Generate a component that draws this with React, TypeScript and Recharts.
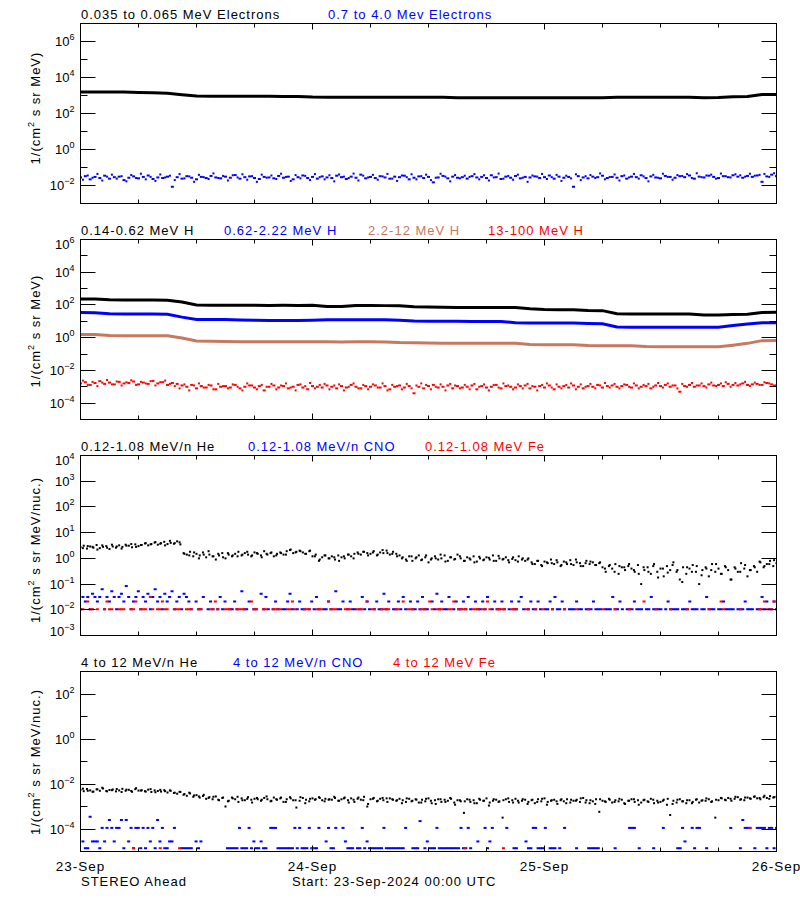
import React from 'react';
import { ComposedChart, Line, Scatter, XAxis, YAxis } from 'recharts';

const BLACK = '#000000';
const BLUE = '#0000ff';
const BROWN = '#c8785f';
const RED = '#ff0000';
const FONT = '"Liberation Sans", Arial, sans-serif';

// x axis is hours since 23-Sep-2024 00:00 UTC
const X_TICKS = [0, 6, 12, 18, 24, 30, 36, 42, 48, 54, 60, 66, 72];
const DAY_LABELS = ['23-Sep', '24-Sep', '25-Sep', '26-Sep'];

const Y1_TICKS = [1e-3, 1e-2, 1e-1, 1, 1e1, 1e2, 1e3, 1e4, 1e5, 1e6, 1e7];
const Y2_TICKS = [1e-5, 1e-4, 1e-3, 1e-2, 1e-1, 1, 1e1, 1e2, 1e3, 1e4, 1e5, 1e6];
const Y3_TICKS = [1e-3, 1e-2, 1e-1, 1, 1e1, 1e2, 1e3, 1e4];
const Y4_TICKS = [1e-5, 1e-4, 1e-3, 1e-2, 1e-1, 1, 1e1, 1e2, 1e3];

const TITLES_1 = ['0.035 to 0.065 MeV Electrons', '0.7 to 4.0 Mev Electrons'];
const TITLES_2 = ['0.14-0.62 MeV H', '0.62-2.22 MeV H', '2.2-12 MeV H', '13-100 MeV H'];
const TITLES_3 = ['0.12-1.08 MeV/n He', '0.12-1.08 MeV/n CNO', '0.12-1.08 MeV Fe'];
const TITLES_4 = ['4 to 12 MeV/n He', '4 to 12 MeV/n CNO', '4 to 12 MeV Fe'];

// smooth channels, one value every 1.5 h
const E_LOW = [1580, 1580, 1570, 1560, 1450, 1400, 1350, 1100, 930, 910, 910, 900, 910, 900, 890, 880, 820, 810, 810, 810, 800, 810, 810, 800, 800, 790, 760, 750, 760, 755, 750, 750, 750, 755, 750, 760, 760, 800, 810, 810, 805, 800, 800, 760, 770, 860, 880, 1150, 1150];
const H_014 = [235, 232, 205, 200, 200, 198, 195, 150, 100, 96, 95, 95, 95, 94, 95, 94, 95, 80, 80, 92, 92, 91, 90, 78, 75, 72, 71, 71, 70, 70, 70, 58, 52, 51, 51, 46, 45, 29, 28, 28, 28, 28, 28, 24, 24, 26, 27, 34, 36];
const H_062 = [34, 33, 29, 28, 28, 28, 27, 18, 13, 13, 13, 12, 11.5, 11.4, 11.4, 11.4, 11.8, 12.5, 12.5, 12.5, 12.5, 12.3, 11.5, 10.3, 10, 10, 10, 9.9, 9.9, 9.8, 8.2, 7.8, 7.8, 7.8, 7.8, 7.4, 7.1, 4.5, 4.4, 4.3, 4.3, 4.3, 4.3, 4.3, 4.4, 5.5, 6.8, 8.1, 8.2];
const H_22 = [1.58, 1.55, 1.35, 1.32, 1.32, 1.3, 1.3, 0.95, 0.62, 0.6, 0.58, 0.57, 0.56, 0.56, 0.56, 0.56, 0.56, 0.56, 0.55, 0.56, 0.56, 0.55, 0.5, 0.49, 0.47, 0.45, 0.45, 0.45, 0.45, 0.45, 0.45, 0.38, 0.37, 0.37, 0.37, 0.33, 0.32, 0.32, 0.32, 0.29, 0.28, 0.28, 0.28, 0.28, 0.28, 0.35, 0.45, 0.66, 0.68];

// noisy channels: values on the half hour, then values a quarter hour later
const E_HIGH = [
  .028, .033, .022, .030, .026, .035, .024, .029, .031, .020,
  .027, .032, .025, .030, .036, .023, .028, .026, .031, .0085,
  .029, .024, .033, .027, .022, .030, .026, .034, .028, .025,
  .031, .027, .038, .024, .029, .032, .026, .023, .030, .028,
  .025, .034, .027, .031, .022, .029, .036, .026, .030, .024,
  .032, .028, .026, .035, .029, .023, .031, .027, .040, .025,
  .030, .026, .033, .028, .024, .031, .029, .035, .022, .027,
  .032, .026, .030, .015, .028, .034, .025, .031, .027, .029,
  .024, .033, .028, .030, .026, .037, .029, .023, .031, .027,
  .034, .025, .030, .028, .032, .026, .029, .036, .024, .031,
  .027, .030, .0085, .033, .028, .025, .031, .029, .035, .026,
  .030, .027, .033, .024, .031, .029, .037, .026, .032, .028,
  .025, .034, .030, .027, .033, .029, .036, .024, .031, .028,
  .035, .030, .026, .033, .029, .037, .031, .027, .034, .030,
  .036, .016, .032, .040, .033,
];
const E_HIGH_B = [
  .021, .036, .027, .044, .019, .031, .040, .024, .033, .017,
  .038, .026, .045, .022, .030, .018, .041, .028, .035, .020,
  .043, .025, .032, .016, .039, .029, .023, .047, .026, .034,
  .019, .037, .028, .042, .021, .033, .016, .040, .027, .036,
  .023, .045, .030, .018, .038, .025, .034, .020, .043, .029,
  .022, .037, .017, .041, .031, .026, .046, .019, .035, .028,
  .039, .021, .032, .044, .024, .018, .036, .029, .042, .022,
  .033, .040, .020, .027, .045, .031, .017, .038, .025, .035,
  .030, .043, .022, .037, .019, .028, .046, .024, .034, .021,
  .040, .027, .016, .036, .031, .044, .023, .029, .039, .018,
  .035, .025, .042, .020, .033, .038, .026, .047, .022, .030,
  .041, .019, .036, .028, .044, .024, .032, .017, .039, .027,
  .045, .030, .021, .038, .034, .043, .026, .048, .029, .036,
  .040, .024, .046, .033, .028, .042, .037, .031, .045, .035,
  .039, .044, .030, .048,
];
const H_13 = [
  .0016, .0019, .0013, .0017, .0022, .0015, .0018, .0014, .0020, .0016,
  .0017, .0021, .0014, .0018, .0015, .0023, .0016, .0019, .0013, .0017,
  .0015, .0012, .0010, .0013, .0008, .0011, .0009, .0012, .0007, .0010,
  .0011, .0009, .0013, .0008, .0010, .0012, .0009, .0011, .0006, .0010,
  .0012, .0009, .0011, .0008, .0010, .0013, .0009, .0007, .0011, .0010,
  .0009, .0012, .0010, .0008, .0011, .0009, .0013, .0010, .0008, .0011,
  .0010, .0012, .0009, .0011, .0007, .0010, .0012, .0009, .0011, .0004,
  .0010, .0008, .0011, .0013, .0009, .0010, .0012, .0008, .0011, .0009,
  .0010, .0012, .0007, .0011, .0009, .0010, .0013, .0008, .0011, .0010,
  .0009, .0011, .0012, .0008, .0010, .0011, .0009, .0012, .0007, .0010,
  .0011, .0009, .0012, .0010, .0008, .0011, .0010, .0013, .0009, .0011,
  .0012, .0010, .0011, .0013, .0009, .0012, .0010, .0011, .0008, .0012,
  .0011, .0013, .0010, .0012, .0005, .0011, .0013, .0010, .0012, .0011,
  .0014, .0012, .0013, .0011, .0015, .0013, .0012, .0016, .0013, .0014,
  .0015, .0013, .0017, .0014, .0012,
];
const H_13_B = [
  .0024, .0013, .0020, .0011, .0018, .0026, .0014, .0021, .0012, .0019,
  .0025, .0013, .0020, .0016, .0022, .0012, .0019, .0024, .0015, .0011,
  .0008, .0014, .0006, .0012, .0016, .0009, .0013, .0007, .0015, .0011,
  .0008, .0014, .0010, .0006, .0016, .0012, .0007, .0013, .0010, .0015,
  .0007, .0012, .0016, .0009, .0006, .0014, .0011, .0017, .0008, .0013,
  .0015, .0007, .0012, .0014, .0006, .0010, .0016, .0008, .0013, .0007,
  .0014, .0009, .0016, .0006, .0013, .0011, .0007, .0015, .0008, .0012,
  .0016, .0013, .0007, .0010, .0014, .0006, .0015, .0012, .0008, .0013,
  .0007, .0015, .0010, .0014, .0006, .0013, .0009, .0016, .0012, .0007,
  .0014, .0008, .0015, .0011, .0006, .0013, .0016, .0009, .0014, .0008,
  .0013, .0016, .0007, .0014, .0010, .0015, .0008, .0012, .0017, .0009,
  .0015, .0008, .0014, .0010, .0016, .0008, .0013, .0015, .0010, .0017,
  .0009, .0016, .0012, .0008, .0015, .0010, .0017, .0012, .0016, .0009,
  .0018, .0011, .0016, .0019, .0010, .0017, .0014, .0020, .0011, .0018,
  .0013, .0019, .0016, .0012,
];

// helium: one value every 20 min, then a second set on the quarter hours
const HE_LOW = [
  2.7, 3.1, 2.4, 2.9, 2.6, 3.3, 2.5, 2.8, 3.0, 2.3,
  2.9, 2.6, 3.2, 2.8, 3.4, 3.1, 2.7, 3.5, 3.0, 3.3,
  3.8, 3.2, 3.6, 4.1, 3.4, 3.9, 4.4, 3.6, 4.0, 3.7,
  4.6, 3.5, 1.6, 1.4, 1.8, 1.2, 1.5, 1.3, 1.7, 1.1,
  1.4, 1.2, 0.9, 1.3, 1.6, 1.0, 1.4, 1.2, 1.5, 1.8,
  1.3, 1.6, 1.4, 1.2, 1.7, 1.5, 1.3, 1.9, 1.4, 1.6,
  1.2, 1.5, 1.7, 1.4, 1.9, 2.1, 1.6, 1.8, 2.0, 1.7,
  1.5, 1.9, 1.2, 1.4, 0.8, 1.1, 1.3, 1.0, 1.2, 0.9,
  1.3, 1.1, 1.0, 1.4, 1.2, 1.5, 1.7, 1.4, 1.8, 1.6,
  1.5, 1.9, 1.3, 1.7, 1.6, 2.0, 1.4, 1.8, 1.5, 1.3,
  1.1, 0.9, 1.2, 0.8, 1.0, 1.3, 0.9, 1.1, 0.7, 1.0,
  1.2, 0.9, 1.0, 1.3, 0.8, 1.1, 0.9, 1.4, 1.0, 0.8,
  1.1, 0.9, 1.2, 0.75, 1.0, 0.85, 1.1, 0.9, 1.3, 0.8,
  1.0, 0.9, 1.1, 0.7, 0.95, 0.85, 1.2, 0.9, 0.8, 1.0,
  0.7, 0.6, 0.8, 0.55, 0.75, 0.65, 0.9, 0.6, 0.7, 0.5,
  0.75, 0.6, 0.85, 0.55, 0.7, 0.65, 0.5, 0.8, 0.6, 0.7,
  0.55, 0.65, 0.45, 0.3, 0.5, 0.4, 0.6, 0.25, 0.45, 0.35,
  0.5, 0.4, 0.3, 0.55, 0.1, 0.35, 0.45, 0.25, 0.6, 0.3,
  0.4, 0.2, 0.5, 0.35, 0.7, 0.3, 0.15, 0.45, 0.25, 0.4,
  0.55, 0.3, 0.1, 0.35, 0.45, 0.2, 0.6, 0.3, 0.4, 0.25,
  0.5, 0.35, 0.15, 0.45, 0.3, 0.65, 0.4, 0.2, 0.35, 0.5,
  0.3, 0.7, 0.45, 0.6, 0.8, 0.5, 0.65,
];
const HE_LOW_B = [
  2.5, 3.0, 2.8, 2.2, 3.2, 2.6, 3.4, 2.9, 2.4, 3.1,
  3.6, 2.8, 3.3, 3.9, 3.5, 4.3, 3.7, 3.2, 4.8, 3.9,
  4.2, 1.5, 1.3, 1.7, 1.0, 1.4, 1.9, 1.2, 1.5, 1.1,
  1.6, 1.3, 1.2, 1.4, 1.8, 1.3, 1.6, 1.1, 1.5, 1.7,
  1.3, 1.6, 1.4, 2.2, 1.7, 1.9, 1.5, 2.0, 1.2, 0.9,
  1.3, 1.0, 1.1, 0.8, 1.2, 1.4, 1.0, 1.5, 1.8, 1.3,
  1.7, 1.4, 2.1, 1.6, 1.5, 1.2, 1.0, 0.8, 1.2, 1.1,
  0.85, 1.3, 0.9, 1.0, 1.4, 0.75, 1.1, 0.95, 1.2, 0.8,
  1.0, 0.7, 1.15, 0.9, 1.05, 0.8, 1.25, 0.95, 0.85, 1.1,
  0.75, 1.0, 0.9, 0.6, 0.8, 0.5, 0.7, 0.65, 0.85, 0.55,
  0.7, 0.6, 0.9, 0.5, 0.65, 0.75, 0.55, 0.7, 0.4, 0.55,
  0.3, 0.5, 0.45, 0.6, 0.35, 0.25, 0.45, 0.3, 0.5, 0.18,
  0.4, 0.28, 0.55, 0.35, 0.12, 0.45, 0.3, 0.5, 0.22, 0.4,
  0.35, 0.6, 0.25, 0.45, 0.15, 0.4, 0.3, 0.55, 0.35, 0.45,
  0.75, 0.5, 0.6, 0.85,
];
const HE_HIGH = [
  .0055, .0048, .0060, .0052, .0046, .0058, .0050, .0063, .0049, .0054,
  .0057, .0047, .0052, .0061, .0050, .0055, .0045, .0059, .0051, .0053,
  .0048, .0056, .0044, .0052, .0049, .0046, .0053, .0042, .0050, .0040,
  .0037, .0044, .0033, .0030, .0038, .0027, .0032, .0025, .0029, .0022,
  .0026, .0021, .0028, .0019, .0024, .0010, .0018, .0025, .0021, .0016,
  .0023, .0019, .0026, .0020, .0022, .0021, .0018, .0024, .0021, .0017,
  .0025, .0020, .0023, .0016, .0021, .0026, .0019, .0009, .0018, .0024,
  .0020, .0017, .0023, .0021, .0026, .0019, .0022, .0020, .0020, .0024,
  .0018, .0021, .0025, .0019, .0023, .0016, .0022, .0020, .0027, .0010,
  .0021, .0024, .0017, .0022, .0019, .0023, .0023, .0020, .0018, .0022,
  .0019, .0016, .0022, .0018, .0021, .0015, .0020, .0017, .0023, .0014,
  .0019, .0021, .0016, .0020, .0018, .0022, .0015, .0019, .0017, .00052,
  .0021, .0016, .0019, .0014, .0020, .0018, .0023, .0015, .0018, .0020,
  .0017, .00032, .0021, .0016, .0019, .0022, .0015, .0018, .0020, .0016,
  .0019, .0014, .0021, .0017, .0023, .0016, .0018, .0020, .0013, .0019,
  .0017, .0021, .0015, .0018, .0020, .0016, .0024, .0019, .0014, .0017,
  .0021, .00058, .0018, .0016, .0022, .0015, .0019, .0017, .0020, .0013,
  .0018, .0021, .0016, .0019, .0015, .0020, .0017, .0022, .0014, .0018,
  .0016, .0020, .0012, .00042, .0018, .0015, .0021, .0017, .0014, .0019,
  .0016, .0020, .0015, .0019, .0018, .0021, .0017, .00032, .0019, .0023,
  .0020, .0024, .0018, .0022, .0026, .0021, .0019, .0025, .0022, .0027,
  .0023, .0021, .0026, .0024, .0029, .0025, .0027,
];
const HE_HIGH_B = [
  .0062, .0050, .0045, .0058, .0068, .0047, .0053, .0060, .0044, .0056,
  .0049, .0065, .0051, .0046, .0059, .0043, .0055, .0048, .0052, .0041,
  .0045, .0036, .0041, .0031, .0028, .0033, .0024, .0027, .0020, .0025,
  .0017, .0023, .0027, .0019, .0022, .0015, .0024, .0020, .0028, .0018,
  .0021, .0025, .0016, .0023, .0019, .0026, .0014, .0022, .0020, .0024,
  .0017, .0021, .0027, .0018, .0023, .0015, .0020, .0025, .0019, .0013,
  .0022, .0018, .0024, .0016, .0021, .0019, .0014, .0023, .0017, .0020,
  .0015, .0022, .0018, .0013, .0021, .0016, .0024, .0012, .0019, .0017,
  .0020, .0014, .0022, .0018, .0011, .0021, .0016, .0019, .0023, .0015,
  .0018, .0021, .0013, .0020, .0016, .0022, .0012, .0019, .0017, .0021,
  .0014, .0020, .0018, .0023, .0015, .0019, .0013, .0021, .0017, .0020,
  .0016, .0022, .0014, .0018, .0021, .0012, .0019, .0016, .0020, .0015,
  .0018, .0022, .0013, .0020, .0017, .0019, .0014, .0021, .0018, .0023,
  .0016, .0020, .0024, .0019, .0022, .0027, .0020, .0025, .0023, .0028,
  .0024, .0030, .0022, .0026,
];

// heavy ions: counts per 15 min bin, flux = counts x flux of one count
const LOW_PER_COUNT = 0.0105;
const HIGH_PER_COUNT = 1.4e-5;
const CNO_LOW = [
  1, 3, 2, 3, 1, 4, 3, 2, 3, 6, 1, 3, 2, 5, 3, 1, 3, 4, 2, 8,
  3, 1, 2, 3, 5, 1, 3, 2, 4, 1, 3, 6, 2, 3, 1, 4, 2, 3, 5, 1,
  2, 3, 1, 4, 3, 2, 1, 0, 2, 1, 1, 3, 0, 1, 2, 1, 0, 1, 3, 1,
  2, 0, 1, 1, 2, 1, 0, 5, 1, 1, 2, 0, 1, 1, 0, 4, 1, 3, 1, 0,
  1, 2, 1, 0, 1, 1, 2, 4, 1, 0, 1, 2, 1, 1, 0, 1, 2, 1, 3, 1,
  0, 1, 1, 2, 1, 0, 5, 1, 1, 2, 0, 1, 2, 1, 1, 0, 1, 3, 1, 2,
  1, 0, 1, 2, 1, 1, 4, 1, 2, 0, 1, 1, 2, 1, 3, 1, 0, 2, 1, 1,
  2, 1, 3, 1, 1, 0, 2, 1, 4, 1, 2, 1, 1, 3, 0, 1, 2, 1, 1, 2,
  1, 3, 1, 0, 2, 1, 1, 2, 1, 3, 0, 1, 2, 1, 1, 2, 1, 0, 1, 2,
  1, 1, 2, 3, 1, 0, 1, 2, 1, 1, 2, 1, 0, 1, 1, 2, 1, 3, 1, 1,
  2, 1, 0, 1, 1, 1, 2, 1, 1, 0, 1, 1, 1, 2, 1, 1, 1, 0, 1, 1,
  1, 3, 1, 1, 2, 1, 0, 1, 1, 1, 2, 1, 1, 1, 0, 1, 1, 3, 1, 1,
  1, 1, 0, 1, 2, 1, 1, 1, 1, 0, 1, 1, 1, 2, 1, 1, 1, 0, 1, 1,
  3, 1, 1, 1, 0, 1, 1, 2, 1, 1, 1, 1, 0, 1, 1, 1, 2, 1, 1, 1,
  0, 1, 1, 3, 1, 2, 1, 1, 2, 1,
];
const FE_LOW = [
  1, 1, 0, 2, 1, 1, 0, 1, 0, 0, 1, 2, 1, 1, 0, 0, 1, 1, 1, 0,
  0, 1, 1, 2, 0, 1, 1, 1, 0, 3, 1, 0, 1, 1, 2, 1, 1, 0, 0, 1,
  1, 1, 0, 0, 1, 1, 1, 0, 0, 1, 1, 0, 0, 0, 1, 1, 2, 1, 0, 0,
  1, 1, 1, 0, 0, 1, 1, 1, 1, 0, 0, 2, 1, 1, 0, 0, 1, 1, 0, 0,
  1, 1, 1, 1, 0, 0, 1, 1, 2, 1, 0, 0, 0, 1, 1, 1, 0, 0, 1, 1,
  1, 0, 0, 2, 1, 1, 1, 0, 0, 0, 1, 1, 1, 0, 0, 1, 1, 1, 0, 2,
  0, 1, 1, 0, 0, 1, 1, 1, 1, 0, 0, 1, 1, 0, 2, 0, 1, 1, 1, 0,
  0, 1, 1, 1, 0, 2, 1, 0, 1, 1, 1, 0, 0, 1, 1, 2, 0, 1, 1, 1,
  1, 0, 0, 1, 1, 1, 0, 1, 1, 2, 1, 0, 0, 1, 1, 1, 1, 0, 0, 1,
  1, 1, 0, 0, 0, 1, 1, 0, 0, 1, 0, 0, 1, 0, 0, 0, 1, 0, 0, 0,
  0, 1, 0, 0, 0, 0, 1, 0, 0, 0, 0, 1, 0, 0, 0, 0, 0, 1, 0, 0,
  0, 0, 1, 0, 0, 0, 0, 0, 1, 0, 0, 0, 0, 0, 2, 0, 0, 0, 0, 1,
  0, 0, 0, 0, 0, 1, 0, 0, 0, 0, 0, 0, 1, 0, 0, 0, 0, 0, 0, 0,
  0, 1, 0, 0, 0, 0, 2, 1, 0, 0, 0, 0, 0, 0, 1, 0, 0, 0, 0, 0,
  0, 0, 1, 1, 2, 1, 0, 1, 2, 1,
];
const CNO_HIGH = [
  0, 2, 1, 1, 25, 2, 2, 2, 1, 8,
  2, 8, 18, 8, 2, 8, 8, 18, 1, 18,
  2, 8, 1, 8, 8, 1, 8, 1, 8, 2,
  8, 1, 18, 2, 8, 1, 1, 2, 2, 8,
  0, 0, 1, 1, 1, 1, 1, 0, 2, 1,
  2, 0, 0, 0, 0, 0, 0, 0, 0, 0,
  0, 1, 1, 1, 1, 1, 8, 1, 1, 1,
  8, 1, 2, 1, 1, 2, 1, 1, 0, 8,
  8, 8, 1, 1, 1, 1, 1, 1, 1, 8,
  1, 8, 1, 1, 1, 8, 1, 1, 1, 8,
  0, 0, 2, 8, 1, 1, 8, 0, 0, 8,
  2, 1, 1, 1, 0, 1, 1, 8, 1, 2,
  1, 1, 1, 1, 1, 1, 8, 1, 1, 1,
  1, 1, 1, 1, 1, 8, 0, 0, 1, 1,
  1, 16, 0, 1, 2, 1, 1, 1, 8, 1,
  1, 1, 1, 1, 1, 1, 1, 1, 8, 1,
  1, 8, 1, 0, 0, 2, 0, 0, 8, 1,
  2, 8, 0, 0, 0, 0, 0, 8, 0, 0,
  1, 1, 0, 0, 0, 2, 1, 1, 8, 8,
  1, 1, 1, 8, 0, 1, 1, 1, 0, 1,
  0, 8, 0, 0, 0, 0, 1, 0, 0, 0,
  0, 1, 1, 1, 1, 1, 0, 0, 0, 0,
  0, 0, 1, 0, 0, 0, 0, 0, 8, 8,
  8, 0, 1, 0, 0, 0, 0, 0, 1, 0,
  0, 0, 8, 0, 0, 0, 0, 0, 1, 1,
  8, 2, 0, 0, 8, 1, 8, 8, 0, 0,
  1, 0, 0, 0, 0, 0, 0, 0, 0, 0,
  8, 0, 0, 0, 1, 18, 8, 8, 8, 0,
  1, 8, 8, 8, 8, 1, 8, 8, 1, 8,
];
// [hour, counts]
const FE_HIGH: [number, number][] = [[5.5, 1], [8.25, 1], [10.25, 1], [24, 1], [39.75, 1], [43.75, 1], [69.25, 8]];

type Pt = { t: number; v: number };

// evenly spaced over the whole three days
const toPoints = (vals: number[]): Pt[] =>
  vals.map((v, i) => ({ t: (i * 72) / (vals.length - 1), v })).filter((p) => p.v > 0);

// half-hourly values taken a quarter hour after the main set
const offsetPoints = (vals: number[]): Pt[] => vals.map((v, i) => ({ t: 0.25 + i * 0.5, v }));

const fromCounts = (counts: number[], perCount: number): Pt[] =>
  toPoints(counts.map((c) => c * perCount));

const PLOT_W = 696;
const PLOT_H = 180;
const PANEL_STEP = 216;
const PLOT_TOP = 23.5;

const dotShape = (w: number, h: number, fill: string) => (props: any) =>
  <rect x={props.cx - w / 2} y={props.cy - h / 2} width={w} height={h} fill={fill} />;

type SeriesDef = { kind: 'line' | 'dots'; data: Pt[]; color: string; w?: number; h?: number };
type AxisDef = { ticks: number[]; major: number[]; labels: number[] };

const expText = (e: number) => (e < 0 ? '\u2212' + Math.abs(e) : String(e));

function makeYTick(axis: AxisDef) {
  const lo = Math.round(Math.log10(axis.ticks[0]));
  const hi = Math.round(Math.log10(axis.ticks[axis.ticks.length - 1]));
  return (props: any) => {
    const { x, y, payload } = props;
    const e = Math.round(Math.log10(payload.value));
    const py = Math.round(y - 0.5) + 0.5;
    const len = axis.major.includes(e) ? 15 : 7;
    const edge = e === lo || e === hi;
    const shift = e === hi ? 5 : e === lo ? -4 : 0;
    return (
      <g>
        {!edge && <line x1={x} x2={x + len} y1={py} y2={py} stroke={BLACK} />}
        {!edge && <line x1={x + PLOT_W - len} x2={x + PLOT_W} y1={py} y2={py} stroke={BLACK} />}
        {axis.labels.includes(e) && (
          <text x={x - 6} y={y + shift + 4.5} textAnchor="end" fontFamily={FONT} fontSize={13} fill={BLACK}>
            10<tspan dy={-6} fontSize={9}>{expText(e)}</tspan>
          </text>
        )}
      </g>
    );
  };
}

function makeXTick(withLabels: boolean) {
  return (props: any) => {
    const { x, y, payload } = props;
    const hr = payload.value;
    const px = Math.round(x - 0.5) + 0.5;
    const day = hr % 24 === 0;
    const len = day ? 6 : 4;
    const edge = hr === 0 || hr === 72;
    return (
      <g>
        {!edge && <line x1={px} x2={px} y1={y} y2={y - len} stroke={BLACK} />}
        {!edge && <line x1={px} x2={px} y1={y - PLOT_H} y2={y - PLOT_H + len} stroke={BLACK} />}
        {withLabels && day && (
          <text x={x} y={y + 19} textAnchor="middle" fontFamily={FONT} fontSize={13.5} letterSpacing={1} fill={BLACK}>
            {DAY_LABELS[hr / 24]}
          </text>
        )}
      </g>
    );
  };
}

function Panel({ index, axis, series, bottom }: { index: number; axis: AxisDef; series: SeriesDef[]; bottom?: boolean }) {
  return (
    <div style={{ position: 'absolute', left: 0, top: index * PANEL_STEP - 7 }}>
      <ComposedChart width={800} height={260} margin={{ top: 30.5, right: 23.5, bottom: 29.5, left: 0.5 }}>
        <XAxis
          dataKey="t"
          type="number"
          domain={[0, 72]}
          ticks={X_TICKS}
          interval={0}
          allowDataOverflow
          axisLine={false}
          tickLine={false}
          tickSize={0}
          tickMargin={0}
          height={20}
          tick={makeXTick(!!bottom)}
        />
        <YAxis
          dataKey="v"
          type="number"
          scale="log"
          domain={[axis.ticks[0], axis.ticks[axis.ticks.length - 1]]}
          ticks={axis.ticks}
          interval={0}
          allowDataOverflow
          axisLine={false}
          tickLine={false}
          tickSize={0}
          tickMargin={0}
          width={80}
          tick={makeYTick(axis)}
        />
        {series.map((s, i) =>
          s.kind === 'line' ? (
            <Line key={i} data={s.data} dataKey="v" stroke={s.color} strokeWidth={3} dot={false} isAnimationActive={false} />
          ) : (
            <Scatter key={i} data={s.data} dataKey="v" fill={s.color} shape={dotShape(s.w ?? 2, s.h ?? 2, s.color)} isAnimationActive={false} />
          )
        )}
      </ComposedChart>
    </div>
  );
}

const TITLE_X = [
  [81, 328],
  [81, 224, 368, 488],
  [81, 248, 425],
  [81, 233, 393],
];
const TITLE_COLORS = [
  [BLACK, BLUE],
  [BLACK, BLUE, BROWN, RED],
  [BLACK, BLUE, RED],
  [BLACK, BLUE, RED],
];
const TITLES = [TITLES_1, TITLES_2, TITLES_3, TITLES_4];
const Y_LABEL_CENTER = [108, 331, 550, 762];
const Y_UNITS = ['MeV)', 'MeV)', 'MeV/nuc.)', 'MeV/nuc.)'];

export default function App() {
  const p1: SeriesDef[] = [
    { kind: 'line', data: toPoints(E_LOW), color: BLACK },
    { kind: 'dots', data: toPoints(E_HIGH), color: BLUE, w: 3, h: 2 },
    { kind: 'dots', data: offsetPoints(E_HIGH_B), color: BLUE, w: 2, h: 2 },
  ];
  const p2: SeriesDef[] = [
    { kind: 'line', data: toPoints(H_014), color: BLACK },
    { kind: 'line', data: toPoints(H_062), color: BLUE },
    { kind: 'line', data: toPoints(H_22), color: BROWN },
    { kind: 'dots', data: toPoints(H_13), color: RED, w: 3, h: 2 },
    { kind: 'dots', data: offsetPoints(H_13_B), color: RED, w: 2, h: 2 },
  ];
  const p3: SeriesDef[] = [
    { kind: 'dots', data: toPoints(HE_LOW), color: BLACK, w: 2, h: 2 },
    { kind: 'dots', data: offsetPoints(HE_LOW_B), color: BLACK, w: 2, h: 2 },
    { kind: 'dots', data: fromCounts(CNO_LOW, LOW_PER_COUNT), color: BLUE, w: 3, h: 2 },
    { kind: 'dots', data: fromCounts(FE_LOW, LOW_PER_COUNT), color: RED, w: 3, h: 2 },
  ];
  const p4: SeriesDef[] = [
    { kind: 'dots', data: toPoints(HE_HIGH), color: BLACK, w: 2, h: 2 },
    { kind: 'dots', data: offsetPoints(HE_HIGH_B), color: BLACK, w: 2, h: 2 },
    { kind: 'dots', data: fromCounts(CNO_HIGH, HIGH_PER_COUNT), color: BLUE, w: 3, h: 2 },
    { kind: 'dots', data: FE_HIGH.map(([t, c]) => ({ t, v: c * HIGH_PER_COUNT })), color: RED, w: 3, h: 2 },
  ];

  return (
    <div style={{ position: 'absolute', left: 0, top: 0, width: 800, height: 900, background: '#fff', overflow: 'hidden' }}>
      <Panel index={0} axis={{ ticks: Y1_TICKS, major: [-2, 0, 2, 4, 6], labels: [-2, 0, 2, 4, 6] }} series={p1} />
      <Panel index={1} axis={{ ticks: Y2_TICKS, major: [-4, -2, 0, 2, 4, 6], labels: [-4, -2, 0, 2, 4, 6] }} series={p2} />
      <Panel index={2} axis={{ ticks: Y3_TICKS, major: [-3, -2, -1, 0, 1, 2, 3, 4], labels: [-3, -2, -1, 0, 1, 2, 3, 4] }} series={p3} />
      <Panel index={3} axis={{ ticks: Y4_TICKS, major: [-4, -2, 0, 2], labels: [-4, -2, 0, 2] }} series={p4} bottom />
      <svg width={800} height={900} style={{ position: 'absolute', left: 0, top: 0, pointerEvents: 'none' }}>
        {[0, 1, 2, 3].map((i) => (
          <g key={i}>
            <rect x={80.5} y={PLOT_TOP + i * PANEL_STEP} width={PLOT_W} height={PLOT_H} fill="none" stroke={BLACK} />
            {TITLES[i].map((txt, j) => (
              <text key={j} x={TITLE_X[i][j]} y={PLOT_TOP + i * PANEL_STEP - 5} fontFamily={FONT} fontSize={13} letterSpacing={1} fill={TITLE_COLORS[i][j]}>
                {txt}
              </text>
            ))}
            <text
              transform={`translate(40, ${Y_LABEL_CENTER[i]}) rotate(-90)`}
              textAnchor="middle"
              fontFamily={FONT}
              fontSize={13}
              letterSpacing={1}
              fill={BLACK}
            >
              1/(cm<tspan dy={-6} fontSize={9}>2</tspan>
              <tspan dy={6}> s sr {Y_UNITS[i]}</tspan>
            </text>
          </g>
        ))}
        <text x={81} y={885.5} fontFamily={FONT} fontSize={13} letterSpacing={1} fill={BLACK}>STEREO Ahead</text>
        <text x={292} y={885.5} fontFamily={FONT} fontSize={13} letterSpacing={1} fill={BLACK}>Start: 23-Sep-2024 00:00 UTC</text>
      </svg>
    </div>
  );
}
